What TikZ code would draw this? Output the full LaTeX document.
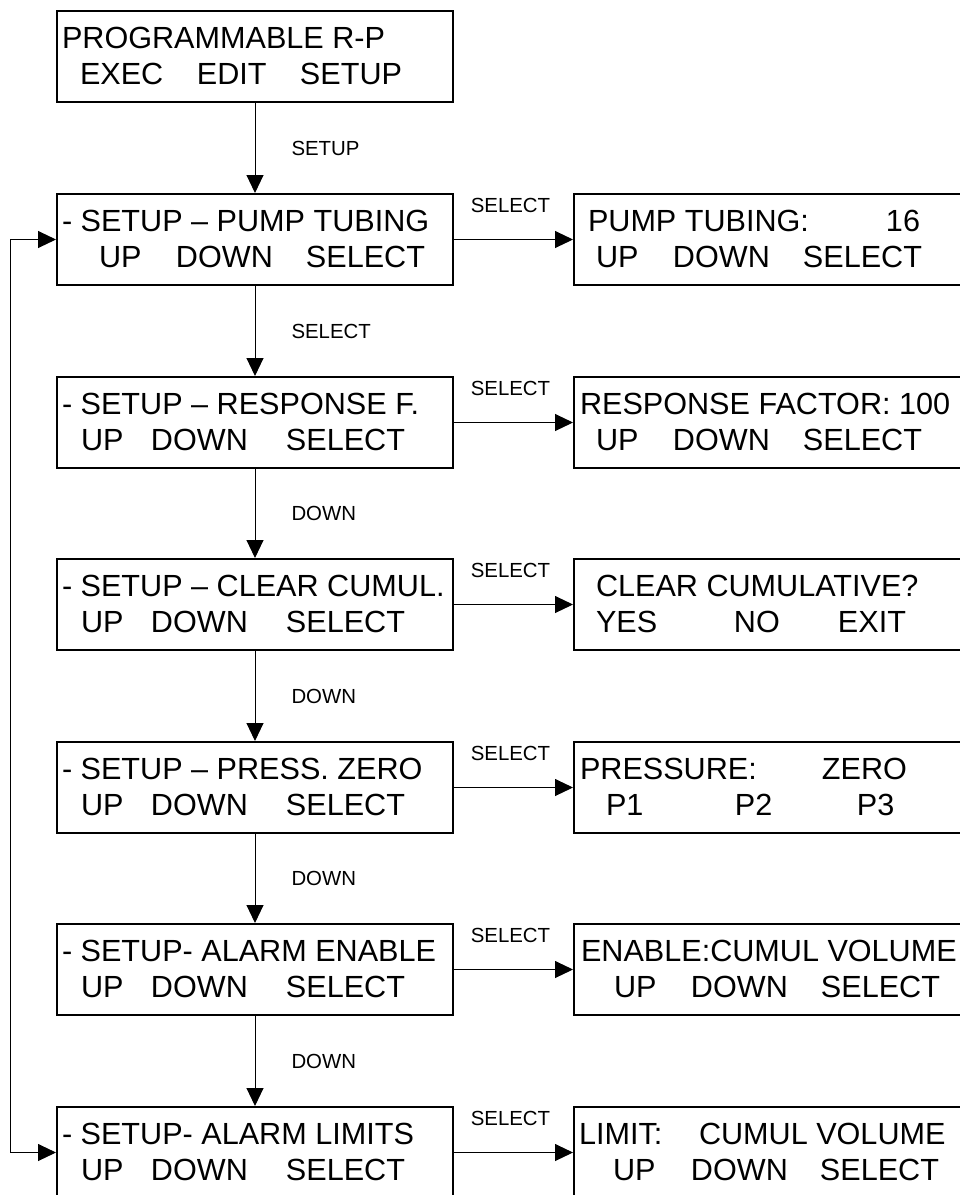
\documentclass[tikz,border=0pt]{standalone}
\usepackage{fontspec}
\setmainfont{Liberation Sans}
\usetikzlibrary{arrows.meta}

% one word of a display line, set at an offset from the left rim
\newcommand\txtat[2]{\rlap{\hspace*{#1pt}#2}}
% a two-line display, 396 x 91; baselines 37 and 73 below the top rim
\newcommand\lcd[2]{\makebox[396pt][l]{\raisebox{54pt}[91pt][0pt]{#1}\raisebox{18pt}[0pt][0pt]{#2}}}

\begin{document}
\begin{tikzpicture}[
  x=1pt, y=1pt,
  >={Triangle[width=17pt,length=18pt]},
  screen/.style={draw, line width=2pt, inner sep=0pt, anchor=north west,
    font=\fontsize{30.6}{36}\selectfont},
  link/.style={draw, line width=1pt, ->},
  keylabel/.style={inner sep=0pt, font=\fontsize{20.4}{24}\selectfont},
]
\useasboundingbox (0,0) rectangle (960,-1195);

% ------------------------------------------------------ the menu column
\node[screen] (menu) at (56,-10)
  {\lcd{\txtat{5}{PROGRAMMABLE R-P}}{\txtat{23}{EXEC}\txtat{140}{EDIT}\txtat{243}{SETUP}}};
\node[screen] (pump) at (56,-193)
  {\lcd{\txtat{5}{- SETUP -- PUMP TUBING}}{\txtat{42}{UP}\txtat{119}{DOWN}\txtat{249}{SELECT}}};
\node[screen] (resp) at (56,-376)
  {\lcd{\txtat{5}{- SETUP -- RESPONSE F.}}{\txtat{24}{UP}\txtat{94}{DOWN}\txtat{229}{SELECT}}};
\node[screen] (clear) at (56,-558)
  {\lcd{\txtat{5}{- SETUP -- CLEAR CUMUL.}}{\txtat{24}{UP}\txtat{94}{DOWN}\txtat{229}{SELECT}}};
\node[screen] (press) at (56,-741)
  {\lcd{\txtat{5}{- SETUP -- PRESS. ZERO}}{\txtat{24}{UP}\txtat{94}{DOWN}\txtat{229}{SELECT}}};
\node[screen] (enable) at (56,-923)
  {\lcd{\txtat{5}{- SETUP- ALARM ENABLE}}{\txtat{24}{UP}\txtat{94}{DOWN}\txtat{229}{SELECT}}};
\node[screen] (limits) at (56,-1106)
  {\lcd{\txtat{5}{- SETUP- ALARM LIMITS}}{\txtat{24}{UP}\txtat{94}{DOWN}\txtat{229}{SELECT}}};

% ------------------------------------------------------ the value screens
% Their right rims run past the page edge, as in the original sheet.
\node[screen] (pumpval) at (573,-193)
  {\lcd{\txtat{14}{PUMP TUBING:}\txtat{312}{16}}{\txtat{22}{UP}\txtat{99}{DOWN}\txtat{229}{SELECT}}};
\node[screen] (respval) at (573,-376)
  {\lcd{\txtat{6}{RESPONSE FACTOR: 100}}{\txtat{22}{UP}\txtat{99}{DOWN}\txtat{229}{SELECT}}};
\node[screen] (clearval) at (573,-558)
  {\lcd{\txtat{22}{CLEAR CUMULATIVE?}}{\txtat{22}{YES}\txtat{160}{NO}\txtat{264}{EXIT}}};
\node[screen] (pressval) at (573,-741)
  {\lcd{\txtat{6}{PRESSURE:}\txtat{248}{ZERO}}{\txtat{32}{P1}\txtat{161}{P2}\txtat{283}{P3}}};
\node[screen] (enableval) at (573,-923)
  {\lcd{\txtat{7}{ENABLE:CUMUL VOLUME}}{\txtat{40}{UP}\txtat{117}{DOWN}\txtat{247}{SELECT}}};
\node[screen] (limitval) at (573,-1106)
  {\lcd{\txtat{5}{LIMIT:}\txtat{125}{CUMUL VOLUME}}{\txtat{39}{UP}\txtat{117}{DOWN}\txtat{246}{SELECT}}};

% ------------------------------------------------------ key presses down
\foreach \a/\b/\k in {menu/pump/SETUP, pump/resp/SELECT, resp/clear/DOWN,
    clear/press/DOWN, press/enable/DOWN, enable/limits/DOWN}
  \draw[link] (\a) -- node[keylabel, anchor=west, xshift=36pt] (key-\a) {\k} (\b);

% ------------------------------------------------------ SELECT to the values
\foreach \l/\r in {pump/pumpval, resp/respval, clear/clearval,
    press/pressval, enable/enableval, limits/limitval}
  \draw[link] (\l) -- node[keylabel, above=26pt, xshift=-3pt] (sel-\l) {SELECT} (\r);

% the last item wraps round to the first
\draw[link, <->] (limits.west) -- ++(-46,0) |- (pump.west);

\end{tikzpicture}
\end{document}
